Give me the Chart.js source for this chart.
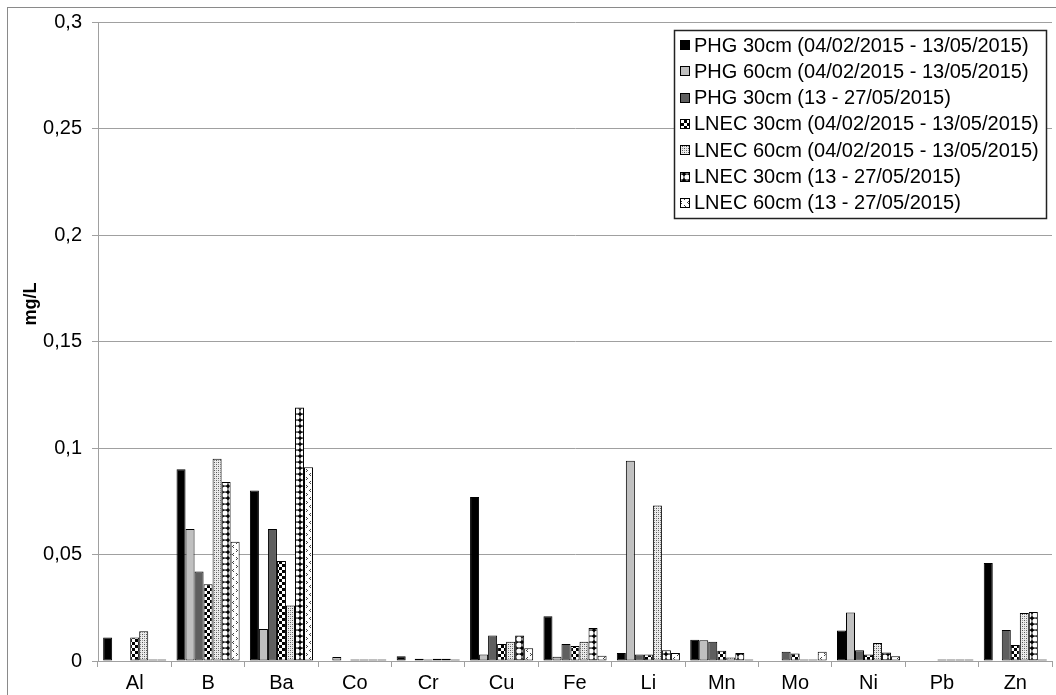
<!DOCTYPE html>
<html>
<head>
<meta charset="utf-8">
<script src="https://cdn.jsdelivr.net/npm/chart.js@4.4.1/dist/chart.umd.min.js"></script>
<style>
  html, body { margin: 0; padding: 0; background: #fff; }
  #wrap { position: relative; width: 1056px; height: 695px; }
</style>
</head>
<body>
<div id="wrap"><canvas id="c" width="1056" height="695"></canvas></div>
<script>
// ---------- data ----------
const categories = ['Al','B','Ba','Co','Cr','Cu','Fe','Li','Mn','Mo','Ni','Pb','Zn'];
const seriesNames = [
  'PHG 30cm (04/02/2015 - 13/05/2015)',
  'PHG 60cm (04/02/2015 - 13/05/2015)',
  'PHG 30cm (13 - 27/05/2015)',
  'LNEC 30cm (04/02/2015 - 13/05/2015)',
  'LNEC 60cm (04/02/2015 - 13/05/2015)',
  'LNEC 30cm (13 - 27/05/2015)',
  'LNEC 60cm (13 - 27/05/2015)'
];
const phg30a  = [0.011, 0.090, 0.080, null,   0.0022, 0.077, 0.021,  0.0037, 0.010,  null,   0.0143, null,   0.046];
const phg60a  = [null,  0.062, 0.015, 0.0019, null,   0.003, 0.002,  0.094,  0.0098, null,   0.0228, null,   null];
const phg30b  = [null,  0.042, 0.062, null,   0.001,  0.012, 0.008,  0.003,  0.009,  0.0043, 0.005,  null,   0.0145];
const lnec30a = [0.011, 0.036, 0.047, 0.0007, 0.0007, 0.008, 0.007,  0.003,  0.0048, 0.0035, 0.003,  0.0007, 0.0075];
const lnec60a = [0.014, 0.095, 0.026, 0.0007, 0.001,  0.009, 0.009,  0.073,  0.0017, 0.0007, 0.0085, 0.0007, 0.0225];
const lnec30b = [0.0007,0.084, 0.119, 0.0007, 0.001,  0.012, 0.0155, 0.005,  0.0037, 0.0007, 0.004,  0.0007, 0.023];
const lnec60b = [0.0007,0.056, 0.091, 0.0007, 0.0007, 0.006, 0.0025, 0.0037, 0.0007, 0.0044, 0.0022, 0.0007, 0.0007];
const yTickLabels = ['0','0,05','0,1','0,15','0,2','0,25','0,3'];
const yAxisTitle = 'mg/L';

// ---------- patterns ----------
function makePattern(w, h, draw) {
  const cv = document.createElement('canvas');
  cv.width = w; cv.height = h;
  const g = cv.getContext('2d');
  draw(g, w, h);
  return document.getElementById('c').getContext('2d').createPattern(cv, 'repeat');
}
const patChecker = makePattern(6, 6, (g) => {
  g.fillStyle = '#fff'; g.fillRect(0,0,6,6);
  g.fillStyle = '#000'; g.fillRect(0,0,3,3); g.fillRect(3,3,3,3);
});
const patDots = makePattern(4, 4, (g) => {
  g.fillStyle = '#ececec'; g.fillRect(0,0,4,4);
  g.fillStyle = '#555'; g.fillRect(0,0,1,1); g.fillRect(2,2,1,1);
  g.fillStyle = '#999'; g.fillRect(2,0,1,1); g.fillRect(0,2,1,1);
});
const patCircles = makePattern(6, 6, (g) => {
  g.fillStyle = '#000'; g.fillRect(0,0,6,6);
  g.fillStyle = '#fff'; g.beginPath(); g.arc(3,3,2.6,0,Math.PI*2); g.fill();
});
const patSparse = makePattern(7, 8, (g) => {
  g.fillStyle = '#fff'; g.fillRect(0,0,7,8);
  g.fillStyle = '#444';
  g.fillRect(2,1,1,1); g.fillRect(1,2,1,1); g.fillRect(2,3,1,1);
  g.fillRect(5,5,1,1); g.fillRect(6,6,1,1); g.fillRect(5,7,1,1);
});
const fills = ['#000000', '#c0c0c0', '#5f5f5f', patChecker, patDots, patCircles, patSparse];
const seriesData = [phg30a, phg60a, phg30b, lnec30a, lnec60a, lnec30b, lnec60b];

const datasets = seriesData.map((d, i) => ({
  label: seriesNames[i],
  data: d,
  backgroundColor: fills[i],
  borderColor: '#000',
  borderWidth: 1,
  borderSkipped: false,
  categoryPercentage: 0.86,
  barPercentage: 1.0
}));

const FONT = '"Liberation Sans", Arial, sans-serif';
const GRID = '#a0a0a0';

const decorPlugin = {
  id: 'decor',
  beforeDraw(chart) {
    const ctx = chart.ctx;
    ctx.save();
    ctx.fillStyle = '#fff';
    ctx.fillRect(0, 0, chart.width, chart.height);
    ctx.strokeStyle = '#8a8a8a';
    ctx.lineWidth = 1;
    ctx.strokeRect(7.5, 7.5, 1200, 1200);
    ctx.restore();
  },
  afterDraw(chart) {
    const ctx = chart.ctx;
    ctx.save();
    // y axis title
    ctx.translate(31, 304);
    ctx.rotate(-Math.PI / 2);
    ctx.fillStyle = '#000';
    ctx.font = 'bold 18px ' + FONT;
    ctx.textAlign = 'center';
    ctx.textBaseline = 'middle';
    ctx.fillText(yAxisTitle, 0, 0);
    ctx.restore();

    // legend
    ctx.save();
    const bx = 674, by = 30, bw = 372, bh = 188;
    ctx.fillStyle = '#fff';
    ctx.fillRect(bx, by, bw, bh);
    ctx.strokeStyle = '#222';
    ctx.lineWidth = 1.5;
    ctx.strokeRect(bx + 0.5, by + 0.5, bw, bh);
    ctx.font = '20px ' + FONT;
    ctx.textBaseline = 'middle';
    ctx.textAlign = 'left';
    const rowH = 26.3;
    for (let i = 0; i < seriesNames.length; i++) {
      const cy = 45 + i * rowH;
      ctx.fillStyle = fills[i];
      ctx.fillRect(680, Math.round(cy - 5), 10, 10);
      ctx.strokeStyle = '#000';
      ctx.lineWidth = 1;
      ctx.strokeRect(680.5, Math.round(cy - 5) + 0.5, 9, 9);
      ctx.fillStyle = '#000';
      ctx.fillText(seriesNames[i], 694, cy + 1);
    }
    ctx.restore();
  }
};

new Chart(document.getElementById('c'), {
  type: 'bar',
  data: { labels: categories, datasets },
  plugins: [decorPlugin],
  options: {
    responsive: false,
    animation: false,
    devicePixelRatio: 1,
    layout: { padding: { left: 0, top: 22, right: 4, bottom: 0 } },
    plugins: { legend: { display: false }, tooltip: { enabled: false }, title: { display: false } },
    scales: {
      x: {
        offset: true,
        grid: { display: true, drawOnChartArea: false, drawTicks: true, tickLength: 6, color: GRID, offset: true },
        border: { display: true, color: GRID, width: 1 },
        ticks: { color: '#000', font: { family: FONT, size: 20 }, padding: 4, maxRotation: 0, autoSkip: false },
        afterFit(scale) { scale.height = 34; }
      },
      y: {
        min: 0, max: 0.3,
        ticks: {
          stepSize: 0.05,
          color: '#000',
          font: { family: FONT, size: 20 },
          padding: 10,
          callback: (v, i) => yTickLabels[i]
        },
        grid: { color: GRID, lineWidth: 1, drawTicks: true, tickLength: 6 },
        border: { display: true, color: GRID, width: 1 },
        afterFit(scale) { scale.width = 98; }
      }
    }
  }
});
</script>
</body>
</html>
